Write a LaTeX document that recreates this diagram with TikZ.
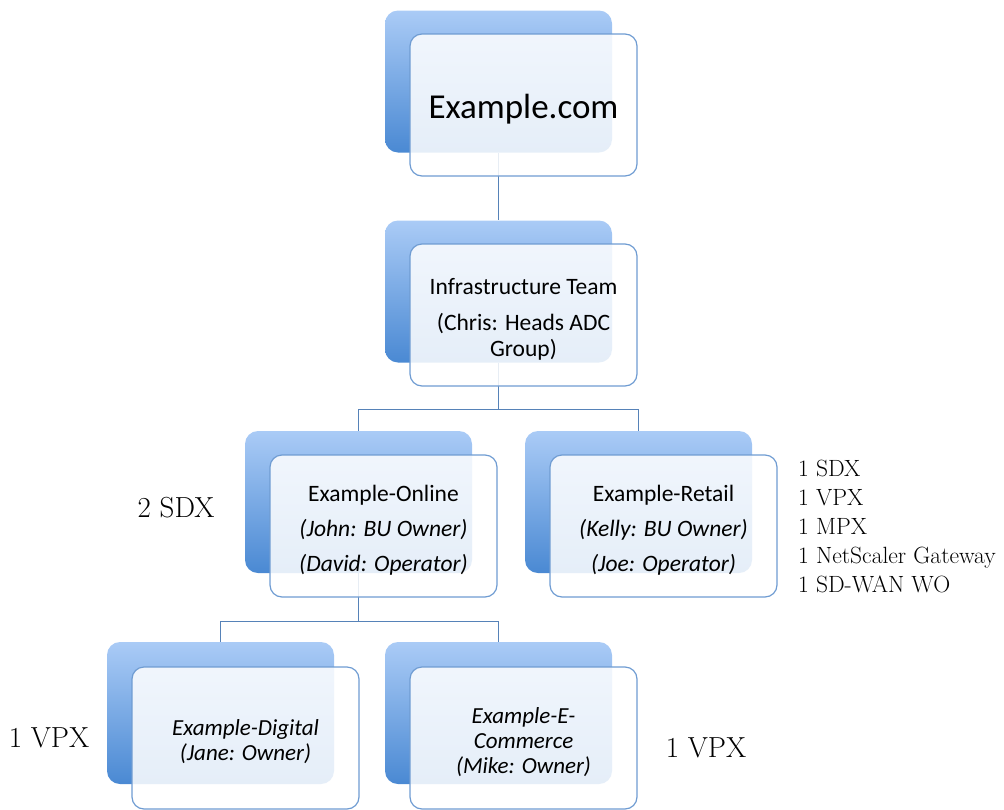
\documentclass[tikz,border=0pt]{standalone}
\usepackage{fontspec}
\newfontfamily\boxfont{Carlito}
\usetikzlibrary{positioning}

\definecolor{backtop}{HTML}{AACBF6}
\definecolor{backbot}{HTML}{4A89D3}
\definecolor{frameblue}{HTML}{6F9CD2}
\definecolor{linkblue}{HTML}{5682B8}

\newcommand*{\boxw}{227pt}
\newcommand*{\boxh}{142pt}
\newcommand{\boxlines}[1]{\raisebox{-5pt}[\height][\depth]{\begin{tabular}{@{}c@{}}#1\end{tabular}}}

\begin{document}
\begin{tikzpicture}
[
	x=1pt,
	y=-1pt,
	backbox/.style={rounded corners=13pt,top color=backtop,bottom color=backbot,draw=none,minimum width=\boxw,minimum height=\boxh,inner sep=0pt},
	frontbox/.style={rounded corners=12pt,draw=frameblue,line width=1.2pt,fill=white,fill opacity=0.86,text opacity=1,minimum width=\boxw,minimum height=\boxh,align=center,inner sep=2pt,font=\boxfont\fontsize{23.5}{26}\selectfont},
	smallbox/.style={frontbox,font=\boxfont\itshape\fontsize{23}{25}\selectfont},
	link/.style={draw=linkblue,line width=1.4pt},
	note/.style={inner sep=0pt,align=left}
]

	\useasboundingbox (0,0) rectangle (1004,809);

	% back boxes
	\node[backbox] (top-b) at (498.5,81.5) {};
	\node[backbox] (infra-b) at (498.5,291.5) {};
	\node[backbox] (online-b) at (358.5,502) {};
	\node[backbox] (retail-b) at (638.5,502) {};
	\node[backbox] (digital-b) at (220.5,713) {};
	\node[backbox] (ecom-b) at (498.5,713) {};

	% connectors
	\draw[link] (top-b.south) -- (infra-b.north);
	\draw[link] (infra-b.south) -- ++(0,47) -| (online-b.north);
	\draw[link] (infra-b.south) -- ++(0,47) -| (retail-b.north);
	\draw[link] (online-b.south) -- ++(0,48) -| (digital-b.north);
	\draw[link] (online-b.south) -- ++(0,48) -| (ecom-b.north);

	% front boxes
	\node[frontbox,font=\boxfont\fontsize{35}{40}\selectfont] (top) at (523.5,105) {\boxlines{Example.com}};
	\node[frontbox] (infra) at (523.5,315) {\boxlines{Infrastructure Team\\[10pt](Chris: Heads ADC\\Group)}};
	\node[frontbox] (online) at (383.5,526) {\boxlines{Example-Online\\[9pt]\textit{(John: BU Owner)}\\[9pt]\textit{(David: Operator)}}};
	\node[frontbox] (retail) at (663.5,526) {\boxlines{Example-Retail\\[9pt]\textit{(Kelly: BU Owner)}\\[9pt]\textit{(Joe: Operator)}}};
	\node[smallbox] (digital) at (245.5,738) {\boxlines{Example-Digital\\(Jane: Owner)}};
	\node[smallbox] (ecom) at (523.5,738) {\boxlines{Example-E-\\Commerce\\(Mike: Owner)}};

	% appliance counts
	\node[note,font=\fontsize{29}{34}\selectfont] (online-n) at (176,508) {2 SDX};
	\node[note,anchor=west,font=\fontsize{23.5}{29}\selectfont] (retail-n) at (798,526) {1 SDX\\1 VPX\\1 MPX\\1 NetScaler Gateway\\1 SD-WAN WO};
	\node[note,font=\fontsize{29}{34}\selectfont] (digital-n) at (49,738) {1 VPX};
	\node[note,font=\fontsize{29}{34}\selectfont] (ecom-n) at (706,748) {1 VPX};

\end{tikzpicture}
\end{document}
